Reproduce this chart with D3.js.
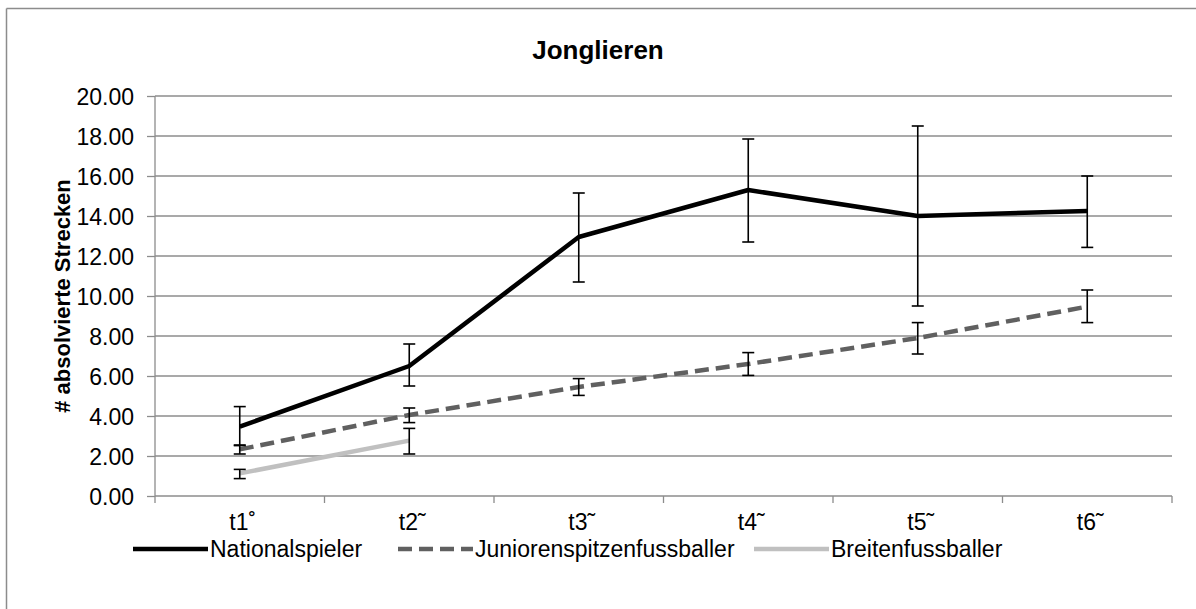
<!DOCTYPE html>
<html><head><meta charset="utf-8">
<script src="https://cdn.jsdelivr.net/npm/d3@7/dist/d3.min.js"></script>
<style>body{margin:0;background:#fff}svg{display:block;font-family:"Liberation Sans",Arial,sans-serif}</style>
</head><body>
<svg id="c" width="1196" height="609"></svg>
<script>
const categories = ["t1˚","t2˜","t3˜","t4˜","t5˜","t6˜"];
const yTicks = [0,2,4,6,8,10,12,14,16,18,20];
const seriesNames = ["Nationalspieler","Juniorenspitzenfussballer","Breitenfussballer"];
const national = [3.47, 6.5, 12.95, 15.3, 14.0, 14.25];
const nationalHi = [4.47, 7.6, 15.15, 17.85, 18.5, 16.0];
const nationalLo = [2.52, 5.5, 10.7, 12.7, 9.5, 12.43];
const junior = [2.33, 4.05, 5.45, 6.6, 7.9, 9.47];
const juniorHi = [2.55, 4.4, 5.87, 7.17, 8.67, 10.3];
const juniorLo = [2.1, 3.67, 5.03, 6.03, 7.1, 8.67];
const breiten = [1.13, 2.77];
const breitenHi = [1.33, 3.38];
const breitenLo = [0.87, 2.1];

const svg = d3.select("#c");
const L = 155, R = 1172, T = 96, B = 496;
const x = d3.scaleBand().domain(categories).range([L, R]);
const y = d3.scaleLinear().domain([0, 20]).range([B, T]);
const cx = c => x(c) + x.bandwidth() / 2;
const FONT = "Liberation Sans, Arial, sans-serif";

// outer border (top and left visible)
svg.append("line").attr("x1",6.5).attr("x2",1196).attr("y1",8.5).attr("y2",8.5).attr("stroke","#8c8c8c").attr("stroke-width",1.5);
svg.append("line").attr("x1",6.5).attr("x2",6.5).attr("y1",8.5).attr("y2",609).attr("stroke","#8c8c8c").attr("stroke-width",1.5);

// title
svg.append("text").attr("x",598).attr("y",59).attr("text-anchor","middle")
  .attr("font-size",26).attr("font-weight","bold").attr("fill","#000").text("Jonglieren");

// gridlines
svg.append("g").selectAll("line").data(yTicks.filter(d=>d>0)).join("line")
  .attr("x1",L).attr("x2",R).attr("y1",d=>y(d)).attr("y2",d=>y(d))
  .attr("stroke","#8c8c8c").attr("stroke-width",1.3);

// y axis
const yAxis = d3.axisLeft(y).tickValues(yTicks).tickFormat(d3.format(".2f")).tickSize(8).tickPadding(13);
const gy = svg.append("g").attr("transform",`translate(${L},0)`).call(yAxis);
gy.select(".domain").attr("stroke","#8c8c8c").attr("stroke-width",1.3).attr("d",`M0,${T}V${B}`);
gy.selectAll(".tick line").attr("stroke","#8c8c8c").attr("stroke-width",1.3);
gy.selectAll("text").attr("font-size",23).attr("fill","#000").attr("font-family",FONT).attr("dy","0.36em");

// x axis
svg.append("line").attr("x1",L).attr("x2",R).attr("y1",B).attr("y2",B).attr("stroke","#8c8c8c").attr("stroke-width",1.3);
const bounds = categories.map(c=>x(c)).concat([R]);
svg.append("g").selectAll("line").data(bounds).join("line")
  .attr("x1",d=>d).attr("x2",d=>d).attr("y1",B).attr("y2",B+7)
  .attr("stroke","#8c8c8c").attr("stroke-width",1.3);
svg.append("g").selectAll("text").data(categories).join("text")
  .attr("x",d=>cx(d)+3).attr("y",530).attr("text-anchor","middle")
  .attr("font-size",23).attr("fill","#000").text(d=>d);

// y axis title
svg.append("text").attr("transform",`translate(70,${(T+B)/2}) rotate(-90)`)
  .attr("text-anchor","middle").attr("font-size",22).attr("font-weight","bold").attr("fill","#000")
  .text("# absolvierte Strecken");

const line = d3.line().x((d,i)=>cx(categories[i])).y(d=>y(d));
const styles = [
  {stroke:"#000000", dash:null},
  {stroke:"#606060", dash:"14,7"},
  {stroke:"#c0c0c0", dash:null}
];
const data = [
  {v:national, hi:nationalHi, lo:nationalLo},
  {v:junior, hi:juniorHi, lo:juniorLo},
  {v:breiten, hi:breitenHi, lo:breitenLo}
];

// lines
[2,1,0].forEach(k=>{
  svg.append("path").attr("d",line(data[k].v)).attr("fill","none")
    .attr("stroke",styles[k].stroke).attr("stroke-width",4.5)
    .attr("stroke-dasharray",styles[k].dash).attr("stroke-linejoin","round");
});

// error bars
data.forEach(s=>{
  const g = svg.append("g").attr("stroke","#000").attr("stroke-width",1.6);
  s.v.forEach((v,i)=>{
    const xx = cx(categories[i]);
    g.append("line").attr("x1",xx).attr("x2",xx).attr("y1",y(s.hi[i])).attr("y2",y(s.lo[i]));
    g.append("line").attr("x1",xx-6).attr("x2",xx+6).attr("y1",y(s.hi[i])).attr("y2",y(s.hi[i]));
    g.append("line").attr("x1",xx-6).attr("x2",xx+6).attr("y1",y(s.lo[i])).attr("y2",y(s.lo[i]));
  });
});

// legend
const legendPos = [133, 398, 754];
seriesNames.forEach((n,k)=>{
  const lx = legendPos[k];
  svg.append("line").attr("x1",lx).attr("x2",lx+75).attr("y1",549).attr("y2",549)
    .attr("stroke",styles[k].stroke).attr("stroke-width",4.5).attr("stroke-dasharray",styles[k].dash);
  svg.append("text").attr("x",lx+77).attr("y",557).attr("font-size",23).attr("fill","#000").text(n);
});
</script>
</body></html>
